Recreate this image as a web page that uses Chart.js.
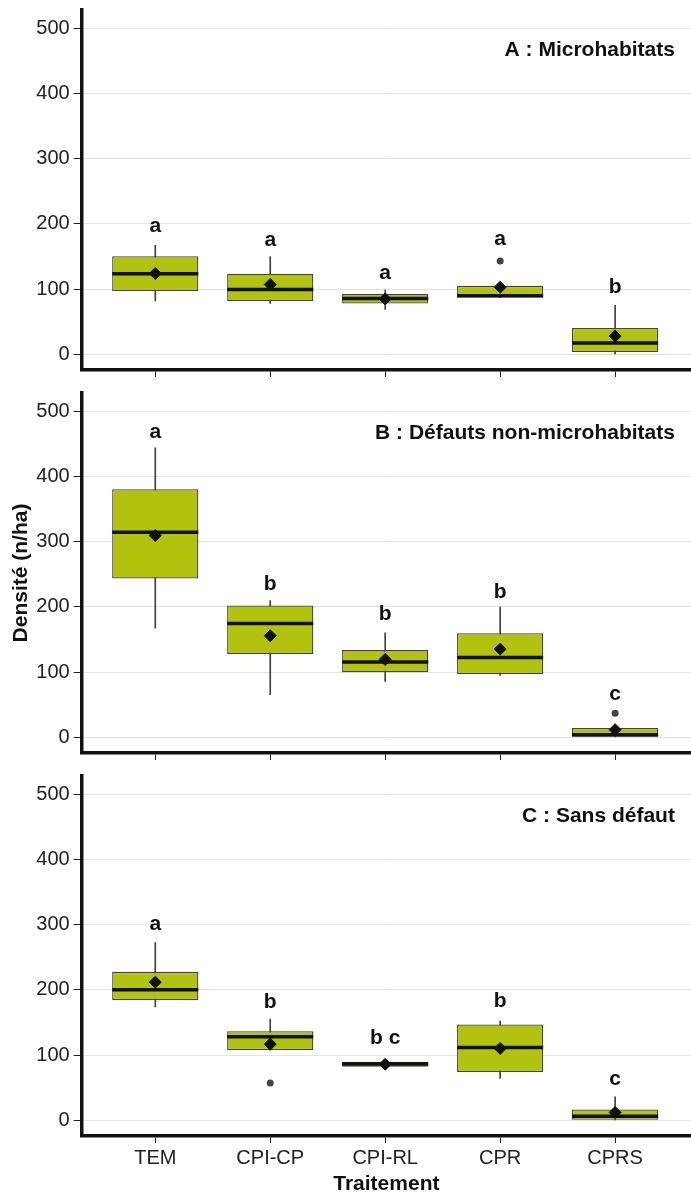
<!DOCTYPE html>
<html lang="fr">
<head>
<meta charset="utf-8">
<title>Densité par traitement</title>
<script src="https://cdn.jsdelivr.net/npm/chart.js@4.4.1/dist/chart.umd.min.js"></script>
<style>
  html,body{margin:0;padding:0;background:#fff}
  #wrap{position:relative;width:691px;height:1193px}
  canvas{position:absolute;left:0}
</style>
</head>
<body>
<div id="wrap">
  <canvas id="pA" width="691" height="383" style="top:0"></canvas>
  <canvas id="pB" width="691" height="383" style="top:383px"></canvas>
  <canvas id="pC" width="691" height="427" style="top:766px"></canvas>
</div>
<script>
// Données (n/ha)
const categories = ['TEM','CPI-CP','CPI-RL','CPR','CPRS'];
const yTicks = [0,100,200,300,400,500];
const panelTitles = ['A : Microhabitats','B : Défauts non-microhabitats','C : Sans défaut'];

// A : Microhabitats
const lowA    = [82, 78, 69, 87, 0];
const q1A     = [97, 81.7, 78, 87.3, 3.5];
const medA    = [123.5, 99.6, 85.8, 89.8, 17.3];
const q3A     = [150.6, 123.5, 92.4, 105, 40.3];
const highA   = [167, 150, 98.5, 105, 75];
const meanA   = [124, 107, 85, 103, 28];
const outA    = [[], [], [], [143], []];
const lettersA = ['a','a','a','a','b'];
const letterYA = [187, 166.5, 116, 167, 93.5];

// B : Défauts non-microhabitats
const lowB    = [167.5, 65.4, 85.8, 95, 0];
const q1B     = [243.6, 127.6, 100, 97, 1];
const medB    = [314.6, 174.7, 115.4, 122.6, 4];
const q3B     = [380.4, 202.2, 133.8, 159.8, 14.3];
const highB   = [443.8, 209.9, 160.4, 199.7, 14.3];
const meanB   = [309.5, 155.8, 119.5, 135.3, 11.8];
const outB    = [[], [], [], [], [36.8]];
const lettersB = ['a','b','b','b','c'];
const letterYB = [459.5, 225.4, 179.4, 213.6, 56.7];

// C : Sans défaut
const lowC    = [174, 107.7, 80, 64.3, 0];
const q1C     = [184.3, 107.7, 82.1, 74, 0];
const medC    = [200.1, 128.1, 86.3, 111.8, 6.1];
const q3C     = [227.7, 136.8, 89.8, 147, 16.8];
const highC   = [272.7, 155.2, 91.5, 152.1, 36.2];
const meanC   = [211.9, 116.9, 86, 110.3, 12.2];
const outC    = [[], [57.1], [], [], []];
const lettersC = ['a','b','b c','b','c'];
const letterYC = [292.2, 171.7, 117, 173.7, 54.1];

const FONT = "'Liberation Sans', Arial, sans-serif";
const FILL = '#b1c30e', EDGE = '#424242', INK = '#111';

function makeChart(id, p, idx){
  const last = idx === 2;
  const xs = categories.map((_, i) => i + 1);

  // lettres de groupes + titre du panneau
  const annot = {
    id: 'annot' + idx,
    afterDatasetsDraw(chart){
      const {ctx, scales:{x, y}} = chart;
      ctx.save();
      ctx.fillStyle = INK;
      ctx.font = 'bold 21px ' + FONT;
      ctx.textBaseline = 'alphabetic';
      ctx.textAlign = 'center';
      p.letters.forEach((t, i) => ctx.fillText(t, x.getPixelForValue(xs[i]), y.getPixelForValue(p.letterY[i])));
      ctx.textAlign = 'right';
      ctx.fillText(panelTitles[idx], x.getPixelForValue(5.52), y.getPixelForValue(457));
      ctx.restore();
    }
  };

  return new Chart(document.getElementById(id), {
    type: 'bar',
    data: {
      datasets: [
        { // moustaches
          type:'bar', order:5, grouped:false, barThickness:1,
          data: xs.map((x, i) => ({x, y:[p.low[i], p.high[i]]})),
          backgroundColor: EDGE, borderWidth:0
        },
        { // boîtes
          type:'bar', order:4, grouped:false, barPercentage:0.75, categoryPercentage:1,
          data: xs.map((x, i) => ({x, y:[p.q1[i], p.q3[i]]})),
          backgroundColor: FILL, borderColor: EDGE, borderWidth:1.3, borderSkipped:false
        },
        { // médianes
          type:'scatter', order:3,
          data: xs.map((x, i) => ({x, y:p.med[i]})),
          pointStyle:'line', pointRadius:43, borderColor:INK, borderWidth:3.5
        },
        { // moyennes
          type:'scatter', order:2,
          data: xs.map((x, i) => ({x, y:p.mean[i]})),
          pointStyle:'rectRot', pointRadius:6, backgroundColor:INK, borderColor:INK, borderWidth:1
        },
        { // valeurs extrêmes
          type:'scatter', order:1,
          data: p.out.flatMap((arr, i) => arr.map(v => ({x:xs[i], y:v}))),
          pointStyle:'circle', pointRadius:3.5, backgroundColor:'#444', borderColor:'#444', borderWidth:0
        }
      ]
    },
    options: {
      responsive:false, animation:false, devicePixelRatio:1,
      layout:{ autoPadding:false, padding:{ top:10, left:0, right:0, bottom:0 } },
      plugins:{ legend:{display:false}, tooltip:{enabled:false} },
      scales:{
        x:{
          type:'linear', min:0.36, max:5.66, offset:false,
          afterBuildTicks: s => { s.ticks = xs.map(v => ({value:v})); },
          afterFit: s => { s.height = last ? 57 : 13; s.paddingLeft = 0; s.paddingRight = 0; },
          ticks:{ display:last, autoSkip:false, maxRotation:0, padding:3, color:'#222',
                  font:{family:FONT, size:20}, callback:(v, i) => categories[i] },
          grid:{ display:true, offset:false, drawOnChartArea:false, drawTicks:true, tickLength:7, tickColor:'#222', lineWidth:1 },
          border:{ display:true, color:INK, width:3.5 },
          title:{ display:last, text:'Traitement', color:INK, padding:{top:0, bottom:0},
                  font:{family:FONT, size:21, weight:'bold', lineHeight:0.8} }
        },
        y:{
          type:'linear', min:-24, max:528,
          afterBuildTicks: s => { s.ticks = yTicks.map(v => ({value:v})); },
          // largeur fixe, pas de marge auto pour garder la même zone de tracé
          afterFit: s => { s.width = 81.7; s.paddingTop = 0; s.paddingBottom = 0; },
          ticks:{ padding:4, color:'#222', font:{family:FONT, size:20} },
          grid:{ color:'#e3e3e3', lineWidth:1, drawTicks:true, tickLength:8, tickColor:'#222' },
          border:{ display:true, color:INK, width:3.5 },
          title:{ display: idx === 1, text:'Densité (n/ha)', color:INK, padding:{top:8.3, bottom:0},
                  font:{family:FONT, size:21, weight:'bold'} }
        }
      }
    },
    plugins:[annot]
  });
}

makeChart('pA', {low:lowA, q1:q1A, med:medA, q3:q3A, high:highA, mean:meanA, out:outA, letters:lettersA, letterY:letterYA}, 0);
makeChart('pB', {low:lowB, q1:q1B, med:medB, q3:q3B, high:highB, mean:meanB, out:outB, letters:lettersB, letterY:letterYB}, 1);
makeChart('pC', {low:lowC, q1:q1C, med:medC, q3:q3C, high:highC, mean:meanC, out:outC, letters:lettersC, letterY:letterYC}, 2);
</script>
</body>
</html>
